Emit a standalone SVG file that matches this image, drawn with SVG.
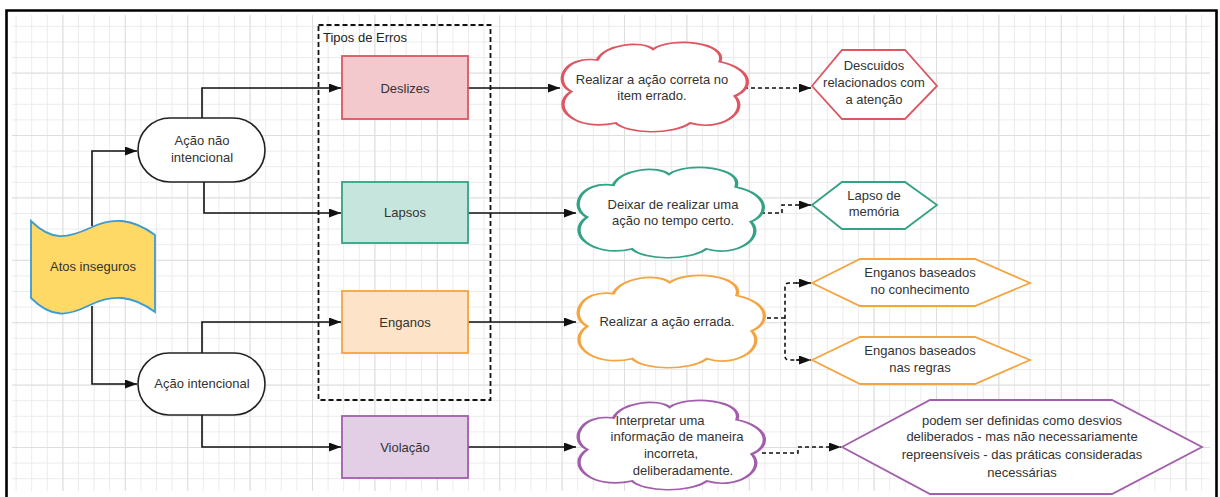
<svg xmlns="http://www.w3.org/2000/svg" width="1220" height="497" viewBox="0 0 1220 497">
  <style>
    text { font-family: "Liberation Sans", Arial, sans-serif; font-size: 13px; fill: #333; text-anchor: middle; }
    .line { fill: none; stroke: #111; stroke-width: 1.6; }
    .dash { fill: none; stroke: #111; stroke-width: 1.6; stroke-dasharray: 4 3; }
    .cloud { fill: #fff; stroke-width: 1.8; }
    .hex { fill: #fff; stroke-width: 1.8; }
    .pill { fill: #fff; stroke: #222; stroke-width: 1.6; }
  </style>
  <defs>
    <pattern id="minor" width="15.6" height="15.6" x="0" y="10.2" patternUnits="userSpaceOnUse">
      <path d="M0 0.5H15.6M0.5 0V15.6" fill="none" stroke="#ebebeb" stroke-width="1"/>
    </pattern>
    <pattern id="major" width="62.4" height="62.4" x="0" y="10.2" patternUnits="userSpaceOnUse">
      <path d="M0 0.5H62.4M0.5 0V62.4" fill="none" stroke="#dedede" stroke-width="1"/>
    </pattern>
    <marker id="arrow" viewBox="0 0 12 9" refX="12" refY="4.5" markerWidth="12" markerHeight="9" markerUnits="userSpaceOnUse" orient="auto">
      <path d="M0 0L12 4.5L0 9Z" fill="#111"/>
    </marker>
    <path id="cloudShape" d="M6 55C-4 45 2 15 20 20C24 2 44 -2 50 8C60 -6 90 0 86 22C104 30 104 52 94 60C102 78 86 100 70 90C60 104 36 102 30 90C8 100 -6 72 6 55Z"/>
  </defs>

  <!-- page and grid -->
  <rect x="0" y="0" width="1220" height="497" fill="#fff"/>
  <rect x="12" y="15" width="1198" height="476" fill="url(#minor)"/>
  <rect x="12" y="15" width="1198" height="476" fill="url(#major)"/>
  <path d="M6.5 497V10.5H1216.5V497" fill="none" stroke="#000" stroke-width="2.6"/>

  <!-- error types container -->
  <g id="tipos-de-erros">
    <rect x="318.5" y="25" width="172" height="375" fill="none" stroke="#111" stroke-width="1.8" stroke-dasharray="5 3"/>
    <text x="323" y="41.5" style="text-anchor:start;fill:#222">Tipos de Erros</text>
  </g>

  <!-- connectors -->
  <g id="connectors">
    <path class="line" d="M92 226V151H137" marker-end="url(#arrow)"/>
    <path class="line" d="M92 306V384H137" marker-end="url(#arrow)"/>
    <path class="line" d="M202 118V88H341" marker-end="url(#arrow)"/>
    <path class="line" d="M204 182V213H341" marker-end="url(#arrow)"/>
    <path class="line" d="M202 353V322H341" marker-end="url(#arrow)"/>
    <path class="line" d="M202 415V447H341" marker-end="url(#arrow)"/>
    <path class="line" d="M468 88H560" marker-end="url(#arrow)"/>
    <path class="line" d="M468 213H576" marker-end="url(#arrow)"/>
    <path class="line" d="M468 322H576" marker-end="url(#arrow)"/>
    <path class="line" d="M468 447H576" marker-end="url(#arrow)"/>
    <path class="dash" d="M744 88H811" marker-end="url(#arrow)"/>
    <path class="dash" d="M761 213H782V205H811" marker-end="url(#arrow)"/>
    <path class="dash" d="M760 318H785"/>
    <path class="dash" d="M811 283H789Q785 283 785 287V356Q785 360 789 360H811" marker-start="none"/>
    <path class="dash" d="M796 283H811" marker-end="url(#arrow)"/>
    <path class="dash" d="M796 360H811" marker-end="url(#arrow)"/>
    <path class="dash" d="M762 453H798V447H841" marker-end="url(#arrow)"/>
  </g>

  <!-- start node -->
  <g id="atos-inseguros">
    <path d="M31 221C52 242 68 238 90 228C112 217 132 218 155 235V312C132 295 112 294 90 305C68 316 52 319 31 298Z" fill="#ffd966" stroke="#3d9bd1" stroke-width="1.8"/>
    <text x="93" y="270.5">Atos inseguros</text>
  </g>

  <g id="acao-nao-intencional">
    <rect class="pill" x="138" y="118" width="127" height="64" rx="32"/>
    <text x="202" y="145">Ação não</text>
    <text x="202" y="162">intencional</text>
  </g>

  <g id="acao-intencional">
    <rect class="pill" x="138" y="353" width="127" height="62" rx="31"/>
    <text x="202" y="388">Ação intencional</text>
  </g>

  <!-- error type boxes -->
  <g id="deslizes">
    <rect x="342" y="56" width="126" height="63" fill="#f4c9cd" stroke="#db5762" stroke-width="1.8"/>
    <text x="405" y="92.5">Deslizes</text>
  </g>
  <g id="lapsos">
    <rect x="342" y="182" width="126" height="61" fill="#c6e6dd" stroke="#35a185" stroke-width="1.8"/>
    <text x="405" y="217">Lapsos</text>
  </g>
  <g id="enganos">
    <rect x="342" y="291" width="126" height="62" fill="#fde3c8" stroke="#f4a541" stroke-width="1.8"/>
    <text x="405" y="326.5">Enganos</text>
  </g>
  <g id="violacao">
    <rect x="342" y="416" width="126" height="62" fill="#e2cfe5" stroke="#a25eac" stroke-width="1.8"/>
    <text x="405" y="451.5">Violação</text>
  </g>

  <!-- descriptions -->
  <g id="nuvem-deslizes">
    <use href="#cloudShape" class="cloud" stroke="#db5762" vector-effect="non-scaling-stroke" transform="translate(560 42) scale(1.86 0.9)"/>
    <text x="652" y="84">Realizar a ação correta no</text>
    <text x="652" y="100">item errado.</text>
  </g>
  <g id="nuvem-lapsos">
    <use href="#cloudShape" class="cloud" stroke="#35a185" vector-effect="non-scaling-stroke" transform="translate(576 167) scale(1.86 0.91)"/>
    <text x="673" y="208.5">Deixar de realizar uma</text>
    <text x="673" y="224.5">ação no tempo certo.</text>
  </g>
  <g id="nuvem-enganos">
    <use href="#cloudShape" class="cloud" stroke="#f4a541" vector-effect="non-scaling-stroke" transform="translate(576 275) scale(1.87 0.93)"/>
    <text x="667" y="325.5">Realizar a ação errada.</text>
  </g>
  <g id="nuvem-violacao">
    <use href="#cloudShape" class="cloud" stroke="#a25eac" vector-effect="non-scaling-stroke" transform="translate(576 400) scale(1.87 0.9)"/>
    <text x="660" y="424.5">Interpretar uma</text>
    <text x="677" y="440.5">informação de maneira</text>
    <text x="671" y="457.5">incorreta,</text>
    <text x="683" y="474.5">deliberadamente.</text>
  </g>

  <!-- consequences -->
  <g id="descuidos">
    <path class="hex" stroke="#db5762" d="M812 86L842 50H905L937 86L905 119H842Z"/>
    <text x="874" y="70">Descuidos</text>
    <text x="874" y="87">relacionados com</text>
    <text x="874" y="104">a atenção</text>
  </g>
  <g id="lapso-de-memoria">
    <path class="hex" stroke="#35a185" d="M812 205L842 182H905L937 205L905 229H842Z"/>
    <text x="874" y="199.5">Lapso de</text>
    <text x="874" y="216">memória</text>
  </g>
  <g id="enganos-conhecimento">
    <path class="hex" stroke="#f4a541" d="M812 283L860 259H975L1030 283L975 306H860Z"/>
    <text x="920" y="277">Enganos baseados</text>
    <text x="920" y="293.5">no conhecimento</text>
  </g>
  <g id="enganos-regras">
    <path class="hex" stroke="#f4a541" d="M812 360L860 337H975L1030 360L975 384H860Z"/>
    <text x="920" y="355">Enganos baseados</text>
    <text x="920" y="371.5">nas regras</text>
  </g>
  <g id="desvios">
    <path class="hex" stroke="#a25eac" d="M842 447L930 400H1112L1202 447L1112 494H930Z"/>
    <text x="1022" y="424.5">podem ser definidas como desvios</text>
    <text x="1022" y="441">deliberados - mas não necessariamente</text>
    <text x="1022" y="458.5">repreensíveis - das práticas consideradas</text>
    <text x="1022" y="477">necessárias</text>
  </g>
</svg>
